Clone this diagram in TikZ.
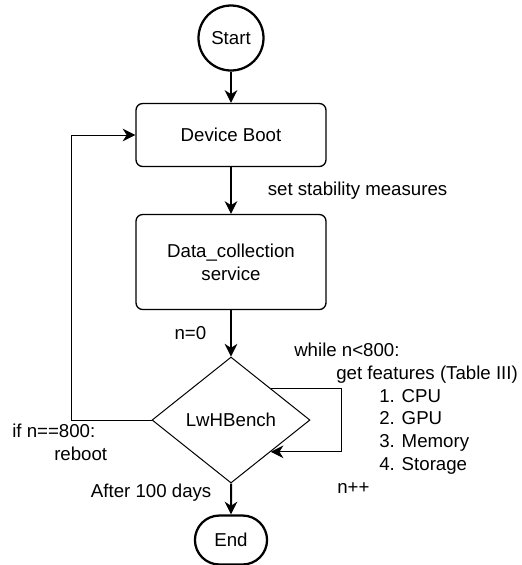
\documentclass[tikz,border=0pt]{standalone}
\usepackage{fontspec}
\setmainfont{Liberation Sans}
\usetikzlibrary{shapes.geometric,shapes.misc,arrows.meta}
\begin{document}
\begin{tikzpicture}[->,>={Stealth[length=9.5pt,width=9.5pt,inset=3pt]},
  every node/.style={font=\fontsize{14}{17.1}\selectfont},
  startstop/.style={draw,line width=1.7pt},
  procbox/.style={rectangle,draw,rounded corners=5pt,line width=1pt,minimum width=142.5pt,align=center},
  decide/.style={diamond,draw,line width=0.75pt,minimum width=118.5pt,minimum height=94.5pt,aspect=1.25,inner sep=0pt},
  note/.style={inner sep=0pt,align=left}]
  \useasboundingbox (0,0) rectangle (391.5pt,-423.75pt);
  \node (start) [startstop,circle,minimum size=48.75pt,inner sep=0pt] at (173.25pt,-28.5pt) {Start};
  \node (boot) [procbox,minimum height=47.25pt,below of=start,yshift=-1.557cm] {Device Boot};
  \node (data) [procbox,minimum height=71.25pt,below of=boot,yshift=-2.348cm] {Data\_collection\\service};
  \node (lwh) [decide,below of=data,yshift=-3.165cm] {LwHBench};
  \node (end) [startstop,rounded rectangle,minimum width=60.75pt,minimum height=36.75pt,below of=lwh,yshift=-2.163cm] {End};
  \draw[line width=1.5pt] (start) -- (boot);
  \draw[line width=1.2pt] (boot) -- node[note,right,xshift=27pt] (stab) {set stability measures} (data);
  \draw[line width=1.2pt] (data) -- node[note,left,xshift=-18pt] (init) {n=0} (lwh);
  \draw[line width=1.5pt] (lwh) -- node[note,left,xshift=-14pt,yshift=5pt] (done) {After 100 days} (end);
  \draw[line width=0.75pt] (lwh.north east) -- ++(53.25pt,0) |- (lwh.south east);
  \draw[line width=0.75pt] (lwh.west) -- ++(-60pt,0) |- (boot.west);
  \node (whilenote) [note,anchor=north west] at (220.5pt,-257pt) {while n<800:\\
    \hspace*{31.5pt}get features (Table III)\\
    \hspace*{63.75pt}1. CPU\\
    \hspace*{63.75pt}2. GPU\\
    \hspace*{63.75pt}3. Memory\\
    \hspace*{63.75pt}4. Storage\\
    \hspace*{32.25pt}n++};
  \node (rebootnote) [note,anchor=north west] at (9pt,-318pt) {if n==800:\\\hspace*{31.5pt}reboot};
\end{tikzpicture}
\end{document}
